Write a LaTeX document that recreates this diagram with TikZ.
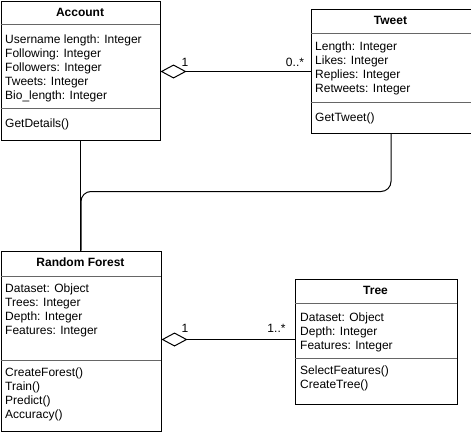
\documentclass[tikz,border=0pt]{standalone}
\usepackage{fontspec}
\setmainfont{Liberation Sans}
\usetikzlibrary{arrows.meta}
\begin{document}
\begin{tikzpicture}[x=1pt,y=-1pt,
  every node/.style={font=\fontsize{12}{13.8}\selectfont, inner sep=0pt},
  box/.style={draw=black, line width=1pt, rectangle, anchor=north west, inner sep=0pt},
  sepline/.style={draw=black!60, line width=1pt},
  head/.style={font=\fontsize{12}{13.8}\selectfont\bfseries, anchor=base},
  body/.style={align=left, anchor=north west},
  conn/.style={draw=black, line width=1pt},
  agg/.style={conn, {Diamond[open,length=26pt,width=14pt]}-},
  mult/.style={font=\fontsize{12}{13.8}\selectfont}
]
\useasboundingbox (0,0) rectangle (471,431);
\fill[white] (0,0) rectangle (471,431);

% Account
\node[box, minimum width=159pt, minimum height=139pt] (acc) at (0.5,0.5) {};
\draw[sepline] (0.5,24.5) -- (159.5,24.5);
\draw[sepline] (0.5,108.5) -- (159.5,108.5);
\node[head] (acch) at (80,16.5) {Account};
\node[body] (acca) at (5,34) {\strut Username length: Integer\\Following: Integer\\Followers: Integer\\Tweets: Integer\\Bio\_length: Integer};
\node[body] (accm) at (5,118) {\strut GetDetails()};

% Tweet
\node[box, minimum width=160pt, minimum height=124pt] (tw) at (310.5,8.5) {};
\draw[sepline] (310.5,33.5) -- (470.5,33.5);
\draw[sepline] (310.5,102.5) -- (470.5,102.5);
\node[head] (twh) at (390.5,24.5) {Tweet};
\node[body] (twa) at (315,41) {\strut Length: Integer\\Likes: Integer\\Replies: Integer\\Retweets: Integer};
\node[body] (twm) at (315,112) {\strut GetTweet()};

% Random Forest
\node[box, minimum width=160pt, minimum height=180pt] (rf) at (0.5,250.5) {};
\draw[sepline] (0.5,276.5) -- (160.5,276.5);
\draw[sepline] (0.5,360.5) -- (160.5,360.5);
\node[head] (rfh) at (80.5,266.5) {Random Forest};
\node[body] (rfa) at (5,283) {\strut Dataset: Object\\Trees: Integer\\Depth: Integer\\Features: Integer};
\node[body] (rfm) at (5,367) {\strut CreateForest()\\Train()\\Predict()\\Accuracy()};

% Tree
\node[box, minimum width=162pt, minimum height=125pt] (tr) at (294.5,278.5) {};
\draw[sepline] (294.5,303.5) -- (456.5,303.5);
\draw[sepline] (294.5,358.5) -- (456.5,358.5);
\node[head] (trh) at (375.5,294.5) {Tree};
\node[body] (tra) at (300,312) {\strut Dataset: Object\\Depth: Integer\\Features: Integer};
\node[body] (trm) at (300,365) {\strut SelectFeatures()\\CreateTree()};

% connectors
\draw[agg] ([yshift=-1pt]acc.east) -- ([yshift=-1pt]acc.east -| tw.west);
\node[mult] (m1) at (185,62) {1};
\node[mult] (m2) at (295,62) {0..*};

\draw[agg] (rf.east |- 0,339.5) -- (tr.west |- 0,339.5);
\node[mult] (m3) at (185,328) {1};
\node[mult] (m4) at (276.5,328) {1..*};

\draw[conn] (acc.south) -- (acc.south |- rf.north);
\coordinate (bend) at (240,191.5);
\draw[conn, rounded corners=10pt] (tw.south) |- (bend) -| (rf.north);
\end{tikzpicture}
\end{document}
